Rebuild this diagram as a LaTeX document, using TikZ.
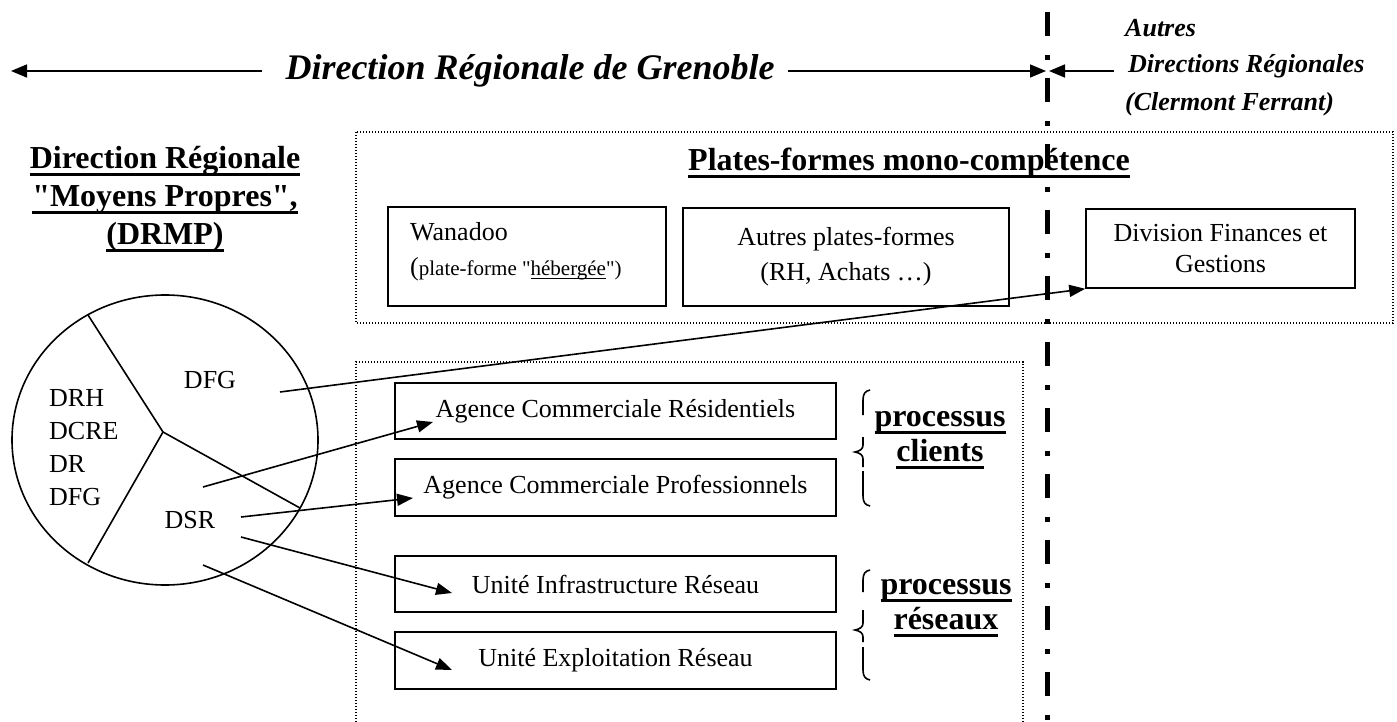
\documentclass[tikz,border=0pt]{standalone}
\usepackage{fontspec}
\setmainfont{Liberation Serif}[Ligatures=TeXOff]
\usetikzlibrary{arrows.meta,shapes.geometric}
\newsavebox\myulbox
\newcommand\ulb[1]{\sbox\myulbox{#1}\rlap{\rule[-0.23em]{\wd\myulbox}{0.09em}}\usebox\myulbox}
\newcommand\uln[1]{\sbox\myulbox{#1}\rlap{\rule[-0.15em]{\wd\myulbox}{0.06em}}\usebox\myulbox}
\begin{document}
\begin{tikzpicture}[x=1pt,y=-1pt,
  box/.style={draw, line width=1.6pt, inner sep=0pt, font=\fontsize{26}{32}\selectfont, align=center},
  dotbox/.style={draw, line width=1.4pt, dash pattern=on 1.4pt off 1.6pt},
  conn/.style={line width=1.6pt, -{Triangle[length=16pt,width=12pt]}},
  tarrow/.style={line width=1.6pt, -{Triangle[length=16pt,width=13pt]}},
  txt/.style={font=\fontsize{26}{31}\selectfont, inner sep=0pt},
  head/.style={font=\fontsize{32}{35}\selectfont\bfseries, inner sep=0pt, align=center},
  bi/.style={font=\fontsize{26}{30}\selectfont\bfseries\itshape, inner sep=0pt, anchor=west},
  br/.style={line width=1.6pt},
]
\useasboundingbox (0,0) rectangle (1397,722);

% title
\node[font=\fontsize{36}{40}\selectfont\bfseries\itshape, inner sep=0pt] (title) at (530,71) {Direction Régionale de Grenoble};
\coordinate (tl) at (11,71);
\coordinate (vl) at (1046,71);
\coordinate (vr) at (1049,71);
\coordinate (ar) at (1114,71);
\draw[tarrow] ([xshift=-23pt]title.west) -- (tl);
\draw[tarrow] ([xshift=13pt]title.east) -- (vl);
\draw[tarrow] (ar) -- (vr);

\node[bi] (a1) at (1125,28) {Autres};
\node[bi] (a2) at (1128,66) {Directions Régionales};
\node[bi] (a3) at (1125,104) {(Clermont Ferrant)};

% dotted frames
\draw[dotbox] (356,132) rectangle (1393,323);
\draw[dotbox] (356,722) -- (356,362) -- (1023,362) -- (1023,722);

\node[head] (pft) at (909,163) {\ulb{Plates-formes mono-compétence}};

% top boxes
\node[box, minimum width=278pt, minimum height=99pt] (wan) at (527,256.5) {};
\node[txt, anchor=west, align=left, font=\fontsize{26}{35}\selectfont] (wantext) at (410,252) {Wanadoo\\(\fontsize{21}{35}\selectfont plate-forme "\uln{hébergée}")};
\node[box, minimum width=326pt, minimum height=98pt, font=\fontsize{26}{35}\selectfont] (aut) at (846,257) {Autres plates-formes\\(RH, Achats …)};
\node[box, minimum width=269pt, minimum height=79pt, font=\fontsize{26}{31}\selectfont] (div) at (1220.5,248.5) {Division Finances et\\Gestions};

% lower boxes
\node[box, minimum width=441pt, minimum height=56pt] (res) at (615.5,411) {Agence Commerciale Résidentiels};
\node[box, minimum width=441pt, minimum height=57pt] (pro) at (615.5,487.5) {Agence Commerciale Professionnels};
\node[box, minimum width=441pt, minimum height=56pt] (inf) at (615.5,584) {Unité Infrastructure Réseau};
\node[box, minimum width=441pt, minimum height=57pt] (exp) at (615.5,660.5) {Unité Exploitation Réseau};

% braces
\begin{scope}[shift={(863,390)}]
\draw[br] (7,0) .. controls (2,1) and (0,4) .. (0,10) -- (0,25);
\draw[br] (0,47) -- (0,55) .. controls (0,59) and (-3,61) .. (-8,62) .. controls (-3,63) and (0,65) .. (0,69) -- (0,77);
\draw[br] (0,81) -- (0,106) .. controls (0,112) and (2,115) .. (7,116);
\end{scope}
\begin{scope}[shift={(863,570)}]
\draw[br] (7,0) .. controls (2,1) and (0,4) .. (0,10) -- (0,22);
\draw[br] (0,40) -- (0,53) .. controls (0,57) and (-3,59) .. (-8,60) .. controls (-3,61) and (0,63) .. (0,67) -- (0,72);
\draw[br] (0,77) -- (0,100) .. controls (0,106) and (2,109) .. (7,110);
\end{scope}
\node[head] (pc) at (940,440) {\ulb{processus}\\\ulb{clients}};
\node[head] (pr) at (946,608) {\ulb{processus}\\\ulb{réseaux}};

% left title
\node[head, font=\fontsize{32}{38}\selectfont\bfseries] (drmp) at (165,199) {\ulb{Direction Régionale}\\\ulb{"Moyens Propres",}\\\ulb{(DRMP)}};

% pie
\node[draw, ellipse, line width=1.6pt, minimum width=306pt, minimum height=290pt, inner sep=0pt] (pie) at (165,440) {};
\coordinate (pc0) at (163,432);
\coordinate (p1) at (88,315);
\coordinate (p2) at (88,563);
\coordinate (p3) at (300,508);
\draw[line width=1.6pt] (p1) -- (pc0) -- (p2);
\draw[line width=1.6pt] (pc0) -- (p3);
\node[txt] (dfg) at (210,380) {DFG};
\node[txt, anchor=west, align=left, font=\fontsize{26}{33}\selectfont] (lst) at (49,448) {DRH\\DCRE\\DR\\DFG};
\node[txt] (dsr) at (190,520) {DSR};

% connectors
\coordinate (s1) at (280,392);
\coordinate (s2) at (203,487);
\coordinate (t2) at (433,422);
\coordinate (s3) at (241,517);
\coordinate (t3) at (413,498);
\coordinate (s4) at (241,537);
\coordinate (t4) at (452,593);
\coordinate (s5) at (203,565);
\coordinate (t5) at (452,670);
\draw[conn] (s1) -- (div.south west);
\draw[conn] (s2) -- (t2);
\draw[conn] (s3) -- (t3);
\draw[conn] (s4) -- (t4);
\draw[conn] (s5) -- (t5);

% vertical separator
\coordinate (vtop) at (1047,12);
\coordinate (vbot) at (1047,722);
\draw[line width=5pt, dash pattern=on 24pt off 19pt on 5pt off 18pt] (vtop) -- (vbot);
\end{tikzpicture}
\end{document}
